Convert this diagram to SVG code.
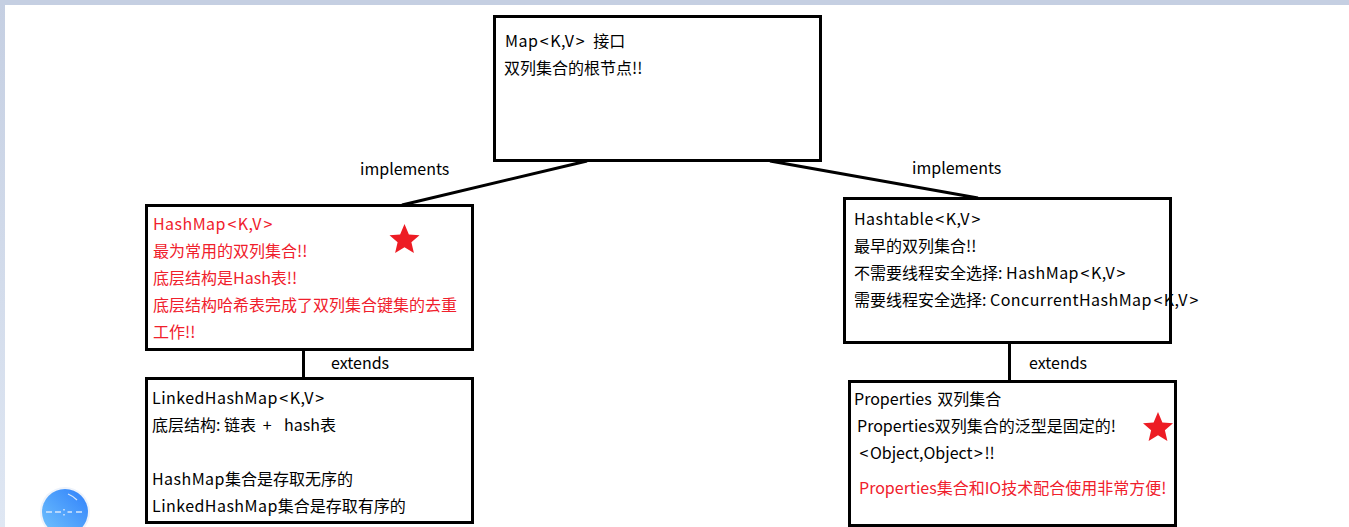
<svg xmlns="http://www.w3.org/2000/svg" width="1349" height="527" viewBox="0 0 1349 527">
<defs>
<linearGradient id="bg" x1="0" y1="0" x2="0" y2="1"><stop offset="0" stop-color="#c5cfe2"/><stop offset="1" stop-color="#dfe7f3"/></linearGradient>
<linearGradient id="ball" x1="1" y1="0" x2="0" y2="1"><stop offset="0" stop-color="#2f80fb"/><stop offset="1" stop-color="#72c4fd"/></linearGradient>
<polygon id="star" points="0,-16 4.4,-5.6 15,-4.8 6.9,2.3 9.4,13 0,7.3 -9.400,13 -6.900,2.300 -15,-4.800 -4.400,-5.600"/>
</defs>
<style>
text{font-family:"Noto Sans CJK SC","Noto Sans",sans-serif;font-size:16px;fill:#000}
.r text,text.r{fill:#f0202c}
.b{fill:#fff;stroke:#000;stroke-width:3}
.c{fill:none;stroke:#000;stroke-width:3}
.s{fill:#ed1c24}
.w{letter-spacing:.45px}
</style>
<rect width="1349" height="527" fill="#fff"/>
<rect x="0" y="0" width="5" height="527" fill="url(#bg)"/>
<rect x="0" y="0" width="1349" height="5" fill="#c5cfe2"/>
<g id="map"><rect class="b" x="494.500" y="16.500" width="326" height="144"/>
<text x="505" y="47"><tspan class="w">Map</tspan><tspan dx="1.500">&lt;</tspan><tspan dx="1.500" class="w">K,V</tspan><tspan dx="1.500">&gt;</tspan><tspan dx="5"> 接口</tspan></text><text x="504" y="74">双列集合的根节点!!</text></g>
<g id="hashmap" class="r"><rect class="b" x="146.500" y="205.500" width="326" height="144"/>
<text x="153" y="230"><tspan class="w">HashMap</tspan><tspan dx="1.500">&lt;</tspan><tspan dx="1.500" class="w">K,V</tspan><tspan dx="1.500">&gt;</tspan></text><text x="153" y="257">最为常用的双列集合!!</text><text x="153" y="284">底层结构是Hash表!!</text><text x="153" y="311">底层结构哈希表完成了双列集合键集的去重</text><text x="153" y="338">工作!!</text>
<use href="#star" class="s" x="404.500" y="240"/></g>
<g id="hashtable"><rect class="b" x="844.500" y="198.500" width="326" height="144"/>
<text x="854" y="225"><tspan class="w">Hashtable</tspan><tspan dx="1.500">&lt;</tspan><tspan dx="1.500" class="w">K,V</tspan><tspan dx="1.500">&gt;</tspan></text><text x="854" y="252">最早的双列集合!!</text><text x="854" y="279">不需要线程安全选择: <tspan class="w">HashMap</tspan><tspan dx="1.500">&lt;</tspan><tspan dx="1.500" class="w">K,V</tspan><tspan dx="1.500">&gt;</tspan></text><text x="854" y="306">需要线程安全选择: <tspan class="w">ConcurrentHashMap</tspan><tspan dx="1.500">&lt;</tspan><tspan dx="1.500" class="w">K,V</tspan><tspan dx="1.500">&gt;</tspan></text></g>
<g id="linkedhashmap"><rect class="b" x="146.500" y="378.500" width="326" height="144"/>
<text x="152" y="404"><tspan class="w">LinkedHashMap</tspan><tspan dx="1.500">&lt;</tspan><tspan dx="1.500" class="w">K,V</tspan><tspan dx="1.500">&gt;</tspan></text><text x="152" y="431">底层结构: 链表 <tspan dx="3">+</tspan><tspan x="284">hash表</tspan></text><text x="152" y="485"><tspan class="w">HashMap</tspan>集合是存取无序的</text><text x="152" y="512"><tspan class="w">LinkedHashMap</tspan>集合是存取有序的</text></g>
<g id="properties"><rect class="b" x="849.500" y="381.500" width="326" height="144"/>
<text x="854" y="405">Properties<tspan dx="2"> 双列集合</tspan></text><text x="857" y="432">Properties双列集合的泛型是固定的!</text><text x="858" y="459"><tspan dx="1.500">&lt;</tspan><tspan dx="1.500">Object,Object</tspan><tspan dx="1.500">&gt;</tspan><tspan dx="1.500">!!</tspan></text><text class="r" x="859" y="494">Properties集合和IO技术配合使用非常方便!</text>
<use href="#star" class="s" x="1158" y="428"/></g>
<g id="connectors">
<path class="c" d="M587 161L402 205"/>
<path class="c" d="M770 161L978 198"/>
<path class="c" d="M303.500 350V377"/>
<path class="c" d="M1009.500 343V380"/>
</g>
<g id="labels">
<text x="360" y="175">implements</text><text x="912" y="174">implements</text><text x="331" y="369">extends</text><text x="1029" y="369">extends</text>
</g>
<g id="badge">
<circle cx="65" cy="512" r="25" fill="#eef3fb"/>
<circle cx="65" cy="512" r="23" fill="url(#ball)"/>
<path d="M46 512H52M55 512H61M67.500 512H72M76 512H82M64 509V510.500M64 514V515.500" stroke="#d5e6fb" stroke-width="1.500" fill="none"/>
<path d="M68 494Q73 496 77 500" stroke="#d5e6fb" stroke-width="1.200" fill="none"/>
</g>
</svg>
